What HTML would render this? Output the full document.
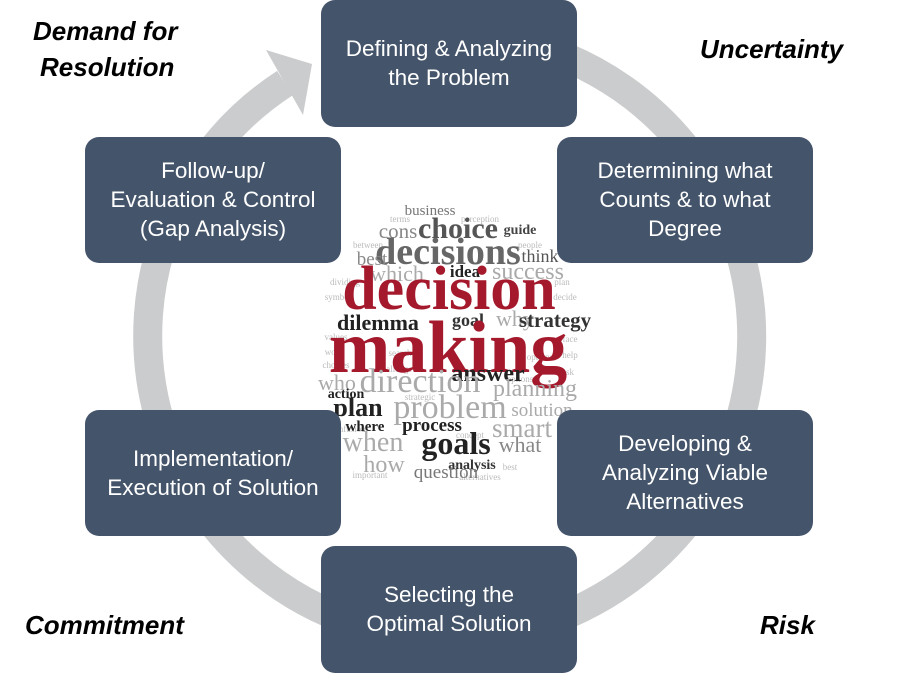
<!DOCTYPE html>
<html><head><meta charset="utf-8"><style>
html,body{margin:0;padding:0;background:#fff;}
svg{display:block;}
.bt{font-family:"Liberation Sans",sans-serif;font-size:22.5px;fill:#fff;text-anchor:middle;}
.lb{font-family:"Liberation Sans",sans-serif;font-size:26px;font-weight:bold;font-style:italic;fill:#000;}
.w{font-family:"Liberation Serif",serif;text-anchor:middle;}
.s{font-size:9px;fill:#bbb;}
</style></head><body>
<svg width="898" height="673" viewBox="0 0 898 673" xmlns="http://www.w3.org/2000/svg">
<rect width="898" height="673" fill="#fff"/>
<path d="M 501.4 38.6 A 302 302 0 1 1 285 83" fill="none" stroke="#cbcccd" stroke-width="29"/>
<polygon points="266,50 303,115 312,64" fill="#cbcccd"/>

<circle cx="449" cy="336" r="130" fill="#fff"/>
<g class="w">
<g class="s">
<text x="400" y="222">terms</text><text x="480" y="222">perception</text>
<text x="368" y="248">between</text><text x="530" y="248">people</text>
<text x="345" y="285">dividing</text><text x="562" y="285">plan</text>
<text x="338" y="300">symbol</text><text x="565" y="300">decide</text>
<text x="336" y="340">values</text><text x="570" y="342">face</text>
<text x="334" y="355">work</text><text x="570" y="358">help</text>
<text x="336" y="368">choices</text><text x="568" y="375">ask</text>
<text x="400" y="356">search</text><text x="540" y="360">options</text>
<text x="395" y="372">challenge</text><text x="520" y="382">options</text>
<text x="348" y="432">confusion</text><text x="510" y="470">best</text>
<text x="370" y="478">important</text><text x="480" y="480">alternatives</text>
<text x="420" y="400">strategic</text><text x="470" y="438">concept</text>
</g>
<text x="430" y="215" font-size="15" fill="#777">business</text>
<text x="398" y="238" font-size="21" fill="#888">cons</text>
<text x="458" y="238" font-size="30" font-weight="bold" fill="#555">choice</text>
<text x="520" y="234" font-size="14" fill="#444" font-weight="bold">guide</text>
<text x="448" y="264" font-size="38" font-weight="bold" fill="#666">decisions</text>
<text x="372" y="265" font-size="19" fill="#888">best</text>
<text x="540" y="262" font-size="18" fill="#555">think</text>
<text x="397" y="281" font-size="22" fill="#aaa">which</text>
<text x="465" y="277" font-size="17" font-weight="bold" fill="#222">idea</text>
<text x="528" y="279" font-size="24" fill="#aaa">success</text>
<text x="449" y="309" font-size="62" font-weight="bold" fill="#a5192d">decision</text>
<text x="378" y="330" font-size="22" font-weight="bold" fill="#222">dilemma</text>
<text x="468" y="326" font-size="18" font-weight="bold" fill="#333">goal</text>
<text x="515" y="326" font-size="22" fill="#aaa">why</text>
<text x="555" y="327" font-size="21" font-weight="bold" fill="#333">strategy</text>
<text x="448" y="372" font-size="74" font-weight="bold" fill="#a5192d">making</text>
<text x="488" y="381" font-size="24" font-weight="bold" fill="#222">answer</text>
<text x="337" y="390" font-size="22" fill="#aaa">who</text>
<text x="420" y="392" font-size="34" fill="#aaa">direction</text>
<text x="346" y="398" font-size="14" font-weight="bold" fill="#222">action</text>
<text x="535" y="396" font-size="24" fill="#aaa">planning</text>
<text x="358" y="416" font-size="26" font-weight="bold" fill="#222">plan</text>
<text x="450" y="418" font-size="34" fill="#aaa">problem</text>
<text x="542" y="416" font-size="19" fill="#aaa">solution</text>
<text x="365" y="431" font-size="15" font-weight="bold" fill="#222">where</text>
<text x="432" y="431" font-size="19" font-weight="bold" fill="#222">process</text>
<text x="522" y="437" font-size="27" fill="#aaa">smart</text>
<text x="373" y="451" font-size="28" fill="#aaa">when</text>
<text x="456" y="454" font-size="32" font-weight="bold" fill="#222">goals</text>
<text x="520" y="452" font-size="22" fill="#888">what</text>
<text x="384" y="472" font-size="24" fill="#aaa">how</text>
<text x="472" y="469" font-size="14" font-weight="bold" fill="#333">analysis</text>
<text x="446" y="478" font-size="19" fill="#777">question</text>
</g>

<g fill="#44546a">
<rect x="321" y="0" width="256" height="127" rx="14"/>
<rect x="557" y="137" width="256" height="126" rx="14"/>
<rect x="557" y="410" width="256" height="126" rx="14"/>
<rect x="321" y="546" width="256" height="127" rx="14"/>
<rect x="85" y="410" width="256" height="126" rx="14"/>
<rect x="85" y="137" width="256" height="126" rx="14"/>
</g>
<text class="bt" x="449" y="56">Defining &amp; Analyzing</text>
<text class="bt" x="449" y="85">the Problem</text>
<text class="bt" x="685" y="178">Determining what</text>
<text class="bt" x="685" y="207">Counts &amp; to what</text>
<text class="bt" x="685" y="236">Degree</text>
<text class="bt" x="685" y="451">Developing &amp;</text>
<text class="bt" x="685" y="480">Analyzing Viable</text>
<text class="bt" x="685" y="509">Alternatives</text>
<text class="bt" x="449" y="602">Selecting the</text>
<text class="bt" x="449" y="631">Optimal Solution</text>
<text class="bt" x="213" y="466">Implementation/</text>
<text class="bt" x="213" y="495">Execution of Solution</text>
<text class="bt" x="213" y="178">Follow-up/</text>
<text class="bt" x="213" y="207">Evaluation &amp; Control</text>
<text class="bt" x="213" y="236">(Gap Analysis)</text>

<text class="lb" x="33" y="40">Demand for</text>
<text class="lb" x="40" y="76">Resolution</text>
<text class="lb" x="700" y="58">Uncertainty</text>
<text class="lb" x="25" y="634">Commitment</text>
<text class="lb" x="760" y="634">Risk</text>
</svg>
</body></html>
